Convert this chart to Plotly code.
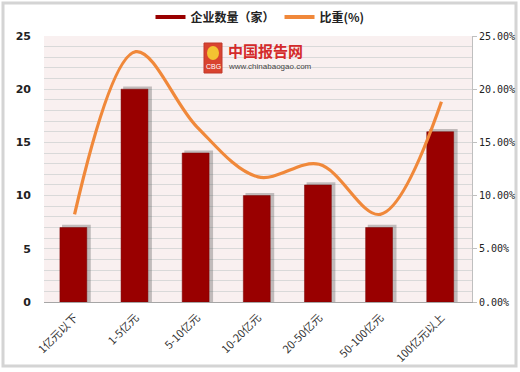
import plotly.graph_objects as go

categories = ["1亿元以下", "1-5亿元", "5-10亿元", "10-20亿元", "20-50亿元", "50-100亿元", "100亿元以上"]
counts = [7, 20, 14, 10, 11, 7, 16]
shares = [8.24, 23.53, 16.47, 11.76, 12.94, 8.24, 18.82]
left_ticks = [0, 5, 10, 15, 20, 25]
right_ticks = [0, 5, 10, 15, 20, 25]
right_tick_labels = ["0.00%", "5.00%", "10.00%", "15.00%", "20.00%", "25.00%"]

W, H = 520, 372
L, R, T, B = 44, 48, 36, 70
PW, PH = W - L - R, H - T - B


def px(x):
    return (x - L) / PW


def py(y):
    return (H - B - y) / PH


BAR_RED = "#990000"
ORANGE = "#F0883A"

fig = go.Figure()

# shadow bars
fig.add_trace(go.Bar(
    x=categories, y=[c + 0.25 for c in counts], width=0.47, offset=-0.205,
    marker=dict(color="rgba(90,90,90,0.35)", line=dict(width=0)),
    showlegend=False, hoverinfo="skip", yaxis="y"))

fig.add_trace(go.Bar(
    x=categories, y=counts, width=0.44, offset=-0.24,
    marker=dict(color=BAR_RED, line=dict(color="#7a0000", width=0.5)),
    name="企业数量（家）", showlegend=False, yaxis="y"))

fig.add_trace(go.Scatter(
    x=categories, y=shares, mode="lines", line=dict(color=ORANGE, width=3.2, shape="spline", smoothing=1.0),
    name="比重(%)", showlegend=False, yaxis="y2"))

# legend proxies
fig.add_trace(go.Scatter(x=[None], y=[None], mode="lines", line=dict(color=BAR_RED, width=4),
                         name="企业数量（家）", showlegend=True))
fig.add_trace(go.Scatter(x=[None], y=[None], mode="lines", line=dict(color=ORANGE, width=4),
                         name="比重(%)", showlegend=True))

shapes = [
    # outer frame
    dict(type="rect", xref="paper", yref="paper", x0=px(3), x1=px(516), y0=py(366), y1=py(3),
         line=dict(color="#d4d4d4", width=3), fillcolor="rgba(0,0,0,0)", layer="below"),
    # logo
    dict(type="rect", xref="paper", yref="paper", x0=px(204), x1=px(222), y0=py(73), y1=py(43),
         line=dict(color="#c0392b", width=1), fillcolor="#d9432f", layer="above"),
    dict(type="circle", xref="paper", yref="paper", x0=px(207), x1=px(219), y0=py(60), y1=py(46),
         line=dict(width=0), fillcolor="#f3c332", layer="above"),
]

annotations = [
    dict(text="<b>中国报告网</b>", xref="paper", yref="paper", x=px(226), y=py(50), xanchor="left", yanchor="middle",
         showarrow=False, font=dict(family="Noto Sans CJK SC", size=15, color="#d42a2a")),
    dict(text="www.chinabaogao.com", xref="paper", yref="paper", x=px(226), y=py(67), xanchor="left", yanchor="middle",
         showarrow=False, font=dict(family="Liberation Sans", size=8, color="#444444")),
    dict(text="CBG", xref="paper", yref="paper", x=px(213), y=py(67), xanchor="center", yanchor="middle",
         showarrow=False, font=dict(family="Liberation Sans", size=7, color="white")),
]

fig.update_layout(
    width=W, height=H,
    margin=dict(l=L, r=R, t=T, b=B, pad=0, autoexpand=False),
    paper_bgcolor="white",
    plot_bgcolor="#f9f0f0",
    barmode="overlay",
    showlegend=True,
    legend=dict(orientation="h", x=0.5, xref="container", xanchor="center", yref="container",
                y=1 - 17 / H, yanchor="middle",
                font=dict(family="Noto Sans CJK SC", size=12, color="#222222", weight="bold"),
                itemwidth=30, bgcolor="rgba(0,0,0,0)"),
    xaxis=dict(type="category", tickangle=-45, showgrid=False, showline=True, linecolor="#a6a6a6",
               linewidth=1, ticks="", automargin=False, ticklabelstandoff=4,
               tickfont=dict(family="Noto Sans CJK SC", size=11, color="#333333"),
               range=[-0.5, 6.5]),
    yaxis=dict(range=[0, 25], tickvals=left_ticks, tickmode="array", showgrid=True, gridcolor="#d9d9d9",
               gridwidth=1, showline=False, zeroline=False, ticks="", automargin=False,
               tickfont=dict(family="DejaVu Sans", size=11, color="#222222", weight="bold"),
               ticklabelstandoff=12,
               minor=dict(dtick=1, showgrid=True, gridcolor="#d9d9d9", gridwidth=1)),
    yaxis2=dict(range=[0, 25], tickvals=right_ticks, ticktext=right_tick_labels, overlaying="y", side="right",
                showgrid=False, showline=True, linecolor="#bfbfbf", zeroline=False, ticks="outside",
                ticklen=4, tickcolor="#bfbfbf", automargin=False,
                tickfont=dict(family="DejaVu Sans Mono", size=10, color="#222222")),
    shapes=shapes,
    annotations=annotations,
)

fig.write_html("out.html", config={"displayModeBar": False},
               post_script="document.body.style.margin='0';document.body.style.overflow='hidden';")
